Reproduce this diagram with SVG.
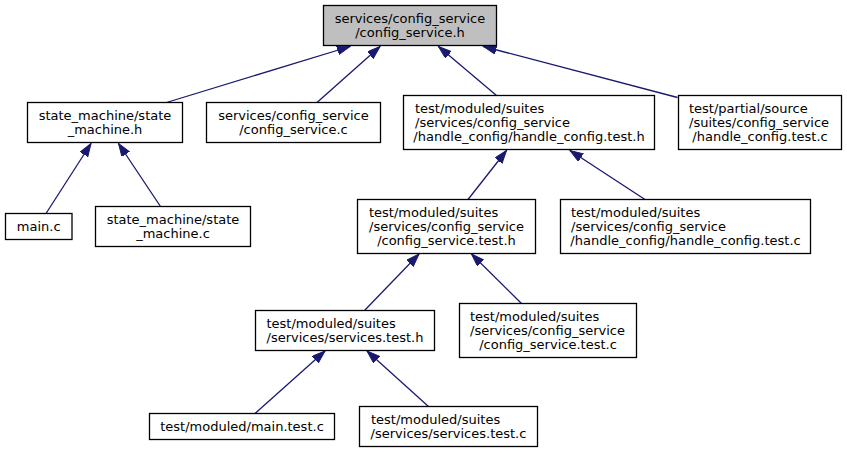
<svg xmlns="http://www.w3.org/2000/svg" width="847" height="453" viewBox="0 0 847 453">
<style>
.n rect{fill:#ffffff;stroke:#000000;stroke-width:1.3}
.n.hl rect{fill:#bfbfbf}
.n text{font-family:"DejaVu Sans",sans-serif;font-size:13px;fill:#000000}
.c{text-anchor:middle}
#edges line{stroke:#191970;stroke-width:1.3;marker-end:url(#ah)}
</style>
<defs>
<marker id="ah" markerUnits="userSpaceOnUse" markerWidth="14" markerHeight="10" refX="13" refY="4.5" orient="auto">
<path d="M0,0 L13,4.5 L0,9 Z" fill="#191970" stroke="#191970" stroke-width="1"/>
</marker>
</defs>
<rect width="847" height="453" fill="#ffffff"/>
<g id="edges">
<line x1="166.5" y1="102.5" x2="350" y2="46.5"/>
<line x1="317" y1="102.5" x2="380" y2="46.5"/>
<line x1="496.5" y1="95.5" x2="438.5" y2="46.5"/>
<line x1="677.5" y1="97.5" x2="483.5" y2="46.5"/>
<line x1="46" y1="213.5" x2="91" y2="143.5"/>
<line x1="160.5" y1="206.5" x2="118.5" y2="143.5"/>
<line x1="468" y1="199.5" x2="506.5" y2="150.5"/>
<line x1="645" y1="199.5" x2="570" y2="150.5"/>
<line x1="364.5" y1="310.5" x2="419" y2="254"/>
<line x1="521.5" y1="303.5" x2="471.5" y2="254"/>
<line x1="255" y1="413.5" x2="325" y2="351"/>
<line x1="428.5" y1="406.5" x2="367" y2="351"/>
</g>
<g id="n1" class="n hl">
<rect x="323.5" y="5.5" width="173" height="40"/>
<text class="c" x="410" y="22.5">services/config_service</text>
<text class="c" x="410" y="36.5">/config_service.h</text>
</g>
<g id="n2" class="n">
<rect x="27.5" y="102.5" width="155" height="40"/>
<text class="c" x="105" y="119.5">state_machine/state</text>
<text class="c" x="105" y="133.5">_machine.h</text>
</g>
<g id="n3" class="n">
<rect x="206.5" y="102.5" width="174" height="40"/>
<text class="c" x="293.5" y="119.5">services/config_service</text>
<text class="c" x="293.5" y="133.5">/config_service.c</text>
</g>
<g id="n4" class="n">
<rect x="403.5" y="95.5" width="251" height="54"/>
<text x="415" y="112.5">test/moduled/suites</text>
<text x="415" y="126.5">/services/config_service</text>
<text class="c" x="529" y="140.5">/handle_config/handle_config.test.h</text>
</g>
<g id="n5" class="n">
<rect x="678.5" y="95.5" width="163" height="54"/>
<text x="689" y="112.5">test/partial/source</text>
<text x="689" y="126.5">/suites/config_service</text>
<text class="c" x="760" y="140.5">/handle_config.test.c</text>
</g>
<g id="n6" class="n">
<rect x="5.5" y="213.5" width="66.5" height="26"/>
<text class="c" x="38.75" y="230.5">main.c</text>
</g>
<g id="n7" class="n">
<rect x="95.5" y="206.5" width="155" height="40"/>
<text class="c" x="173" y="223.5">state_machine/state</text>
<text class="c" x="173" y="237.5">_machine.c</text>
</g>
<g id="n8" class="n">
<rect x="357.5" y="199.5" width="178" height="54"/>
<text x="369" y="216.5">test/moduled/suites</text>
<text x="369" y="230.5">/services/config_service</text>
<text class="c" x="446.5" y="244.5">/config_service.test.h</text>
</g>
<g id="n9" class="n">
<rect x="560.5" y="199.5" width="250" height="54"/>
<text x="571" y="216.5">test/moduled/suites</text>
<text x="571" y="230.5">/services/config_service</text>
<text class="c" x="685.5" y="244.5">/handle_config/handle_config.test.c</text>
</g>
<g id="n10" class="n">
<rect x="255.5" y="310.5" width="179" height="40"/>
<text x="266.5" y="327.5">test/moduled/suites</text>
<text class="c" x="345" y="341.5">/services/services.test.h</text>
</g>
<g id="n11" class="n">
<rect x="459.5" y="303.5" width="177" height="54"/>
<text x="470" y="320.5">test/moduled/suites</text>
<text x="470" y="334.5">/services/config_service</text>
<text class="c" x="548" y="348.5">/config_service.test.c</text>
</g>
<g id="n12" class="n">
<rect x="149.5" y="413.5" width="185" height="26"/>
<text class="c" x="242" y="430.5">test/moduled/main.test.c</text>
</g>
<g id="n13" class="n">
<rect x="359.5" y="406.5" width="178" height="40"/>
<text x="371" y="423.5">test/moduled/suites</text>
<text class="c" x="448.5" y="437.5">/services/services.test.c</text>
</g>
</svg>
